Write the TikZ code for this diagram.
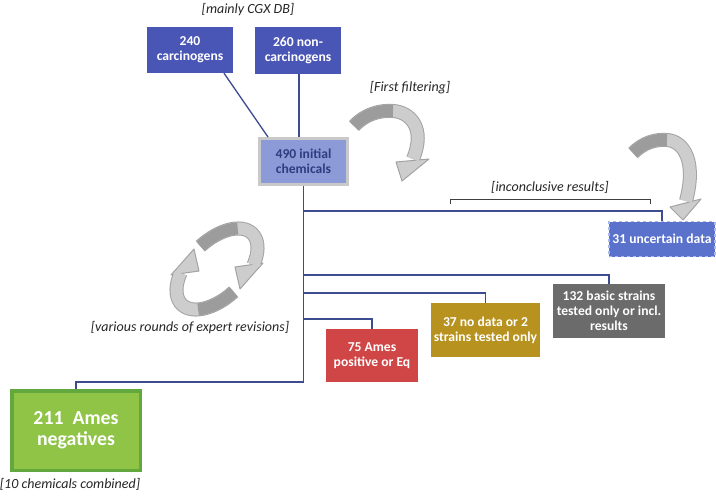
\documentclass[tikz,border=0pt]{standalone}
\usepackage{fontspec}
\setmainfont{Carlito}
\usetikzlibrary{calc}
\definecolor{topblue}{HTML}{4A56B6}
\definecolor{midblue}{HTML}{8C9BD8}
\definecolor{boxgray}{HTML}{C9C9C9}
\definecolor{darktext}{HTML}{2F3D80}
\definecolor{uncblue}{HTML}{5A72CC}
\definecolor{uncedge}{HTML}{A9B9EA}
\definecolor{redbox}{HTML}{D04646}
\definecolor{mustard}{HTML}{B8921F}
\definecolor{grbox}{HTML}{6B6B6B}
\definecolor{greenfill}{HTML}{8FC447}
\definecolor{greenedge}{HTML}{62A83C}
\definecolor{navy}{HTML}{3D4B8F}
\definecolor{arrowlight}{HTML}{CDCDCD}
\definecolor{arrowdark}{HTML}{9C9C9C}
\definecolor{arrowedge}{HTML}{A3A3A3}
\definecolor{brackcol}{HTML}{404040}
\begin{document}
\begin{tikzpicture}[x=1pt,y=-1pt,
  box/.style={rectangle, inner sep=0pt, align=center, text=white,
    font=\bfseries\fontsize{13.6}{15}\selectfont},
  conn/.style={draw=navy, line width=1.3pt},
  lbl/.style={inner sep=0pt, text=black!85, font=\itshape\fontsize{14}{16}\selectfont},
  bandout/.style={line width=14pt, draw=arrowedge},
  bandin/.style={line width=12pt, draw=arrowlight},
  banddark/.style={line width=12pt, draw=arrowdark},
  headtri/.style={fill=arrowlight, draw=arrowedge, line width=1pt, line join=round}]
\useasboundingbox (0,0) rectangle (716,496);
\fill[white] (0,0) rectangle (716,496);

% boxes
\node[box, fill=topblue, minimum width=86pt, minimum height=46pt] (c240) at (190,50) {240\\carcinogens};
\node[box, fill=topblue, minimum width=86pt, minimum height=47pt] (c260) at (298,50.5) {260 non-\\carcinogens};
\node[box, fill=midblue, draw=boxgray, line width=3pt, minimum width=88pt, minimum height=46pt, text=darktext] (n490) at (303.5,161.5) {490 initial\\chemicals};
\node[box, fill=uncblue, draw=uncedge, dashed, line width=1.2pt, minimum width=106pt, minimum height=35pt] (u31) at (662,239) {31 uncertain data};
\node[box, fill=redbox, minimum width=92pt, minimum height=53pt] (a75) at (372,355.5) {75 Ames\\positive or Eq};
\node[box, fill=mustard, minimum width=109pt, minimum height=54pt] (n37) at (485.5,330) {37 no data or 2\\strains tested only};
\node[box, fill=grbox, minimum width=112pt, minimum height=54pt] (b132) at (609,311) {132 basic strains\\tested only or incl.\\results};
\node[box, fill=greenfill, draw=greenedge, line width=3.5pt, minimum width=128.5pt, minimum height=79.5pt, font=\bfseries\fontsize{19.8}{21}\selectfont] (g211) at (76,430.5) {211\ \ Ames\\negatives};

% labels
\node[lbl] (lmain) at (248,10) {[mainly CGX DB]};
\node[lbl] (lfirst) at (410,88) {[First filtering]};
\node[lbl] (linc) at (550,187) {[inconclusive results]};
\node[lbl] (lrev) at (190,328) {[various rounds of expert revisions]};
\node[lbl] (lcomb) at (70,484) {[10 chemicals combined]};

% connectors
\coordinate (c240b) at ($(c240.south)+(34,0)$);
\coordinate (n490t) at ($(n490.north)+(-35.5,0)$);
\coordinate (c260b) at ($(c260.south)+(1,0)$);
\draw[conn] (c240b) -- (n490t);
\draw[conn] (c260b) -- (c260b |- n490.north);
\draw[conn] (n490.south) -- ++(0,25) -| (u31.north);
\draw[conn] (n490.south) -- ++(0,89) -| (b132.north);
\draw[conn] (n490.south) -- ++(0,107) -| (n37.north);
\draw[conn] (n490.south) -- ++(0,133) -| (a75.north);
\draw[conn] (n490.south) -- ++(0,196) -| (g211.north);

% bracket
\coordinate (brL) at (450,204);
\coordinate (brR) at (650,204);
\draw[draw=brackcol, line width=1pt] (brL) |- ($(brR)+(0,-5)$) -- (brR);

% first filtering arrow
\draw[bandout] (354,126) .. controls (365,114) and (380,110) .. (393,111) .. controls (410,112) and (426,128) .. (413,159);
\draw[headtri] (396,162) -- (429,159) -- (402,181) -- cycle;
\draw[bandin] (354,126) .. controls (365,114) and (380,110) .. (393,111) .. controls (410,112) and (426,128) .. (413,159);
\draw[banddark] (354,126) .. controls (365,114) and (380,110) .. (393,111);

% inconclusive arrow
\draw[bandout] (633,153) .. controls (643,143) and (655,139) .. (667,140) .. controls (683,141) and (697,160) .. (686,201);
\draw[headtri] (670,207) -- (701,199) -- (683,220) -- cycle;
\draw[bandin] (633,153) .. controls (643,143) and (655,139) .. (667,140) .. controls (683,141) and (697,160) .. (686,201);
\draw[banddark] (633,153) .. controls (643,143) and (655,139) .. (667,140);

% revision cycle
\begin{scope}[shift={(217,269)}, y=1pt, rotate=45]
  \draw[bandout] (85:50 and 28) arc[start angle=85, end angle=-55, x radius=50, y radius=28];
  \draw[bandout] (265:50 and 28) arc[start angle=265, end angle=125, x radius=50, y radius=28];
\end{scope}
\draw[headtri] (235,267) -- (263,263) -- (240,289) -- cycle;
\draw[headtri] (199,271) -- (171,275) -- (194,249) -- cycle;
\begin{scope}[shift={(217,269)}, y=1pt, rotate=45]
  \draw[bandin] (85:50 and 28) arc[start angle=85, end angle=-55, x radius=50, y radius=28];
  \draw[banddark] (85:50 and 28) arc[start angle=85, end angle=30, x radius=50, y radius=28];
  \draw[bandin] (265:50 and 28) arc[start angle=265, end angle=125, x radius=50, y radius=28];
  \draw[banddark] (265:50 and 28) arc[start angle=265, end angle=213, x radius=50, y radius=28];
\end{scope}
\end{tikzpicture}
\end{document}
